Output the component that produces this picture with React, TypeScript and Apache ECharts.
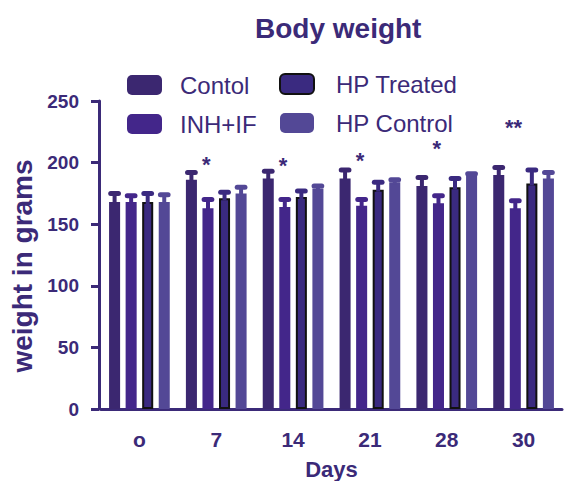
import React, { useEffect, useRef } from "react";
import * as echarts from "echarts";

const days = ["o", "7", "14", "21", "28", "30"];
const seriesNames = ["Contol", "INH+IF", "HP Treated", "HP Control"];
const contolMean = [168, 186, 187, 187, 181, 190];
const contolErr = [7, 6, 6, 7, 7, 6];
const inhMean = [168, 163, 164, 165, 167, 163];
const inhErr = [5, 7, 6, 5, 6, 6];
const hpTreatedMean = [168, 171, 172, 178, 180, 183];
const hpTreatedErr = [7, 5, 5, 6, 7, 11];
const hpControlMean = [168, 175, 179, 184, 190, 187];
const hpControlErr = [6, 5, 2, 2, 1, 5];
// significance marks: [day index, y value, label]
const stars: [number, number, string][] = [
  [1, 201, "*"],
  [2, 200, "*"],
  [3, 204, "*"],
  [4, 214, "*"],
  [5, 231, "**"],
];
const yTicks = [0, 50, 100, 150, 200, 250];

const INK = "#3b2a78";
const FONT = "'Liberation Sans', Arial, sans-serif";
const colors = ["#3b2770", "#43268a", "#3a2a80", "#534896"];
const CAT_GAP = 0.21;
const BAR_GAP = 0.5;

export default function App() {
  const ref = useRef<HTMLDivElement>(null);
  useEffect(() => {
    document.body.style.margin = "0";
    if (!ref.current) return;
    const chart = echarts.init(ref.current, undefined, { renderer: "svg" });
    const means = [contolMean, inhMean, hpTreatedMean, hpControlMean];
    const errs = [contolErr, inhErr, hpTreatedErr, hpControlErr];
    const n = 4;
    const barOffset = (bandWidth: number, i: number) => {
      const usable = bandWidth * (1 - CAT_GAP);
      const bw = usable / (n + (n - 1) * BAR_GAP);
      return { off: -usable / 2 + i * bw * (1 + BAR_GAP) + bw / 2, bw };
    };
    const barSeries = seriesNames.map((name, i) => ({
      name,
      type: "bar",
      data: means[i],
      barGap: BAR_GAP * 100 + "%",
      barCategoryGap: CAT_GAP * 100 + "%",
      itemStyle:
        i === 2
          ? { color: colors[i], borderColor: "#111", borderWidth: 2 }
          : { color: colors[i] },
      z: 2,
    }));
    const errSeries = seriesNames.map((name, i) => ({
      type: "custom",
      name: name + "_err",
      z: 3,
      data: means[i].map((m, k) => [k, m, errs[i][k]]),
      renderItem: (params: any, api: any) => {
        const c = api.value(0);
        const m = api.value(1);
        const e = api.value(2);
        const band = api.size([1, 0])[0];
        const { off, bw } = barOffset(band, i);
        const p0 = api.coord([c, m]);
        const p1 = api.coord([c, m + e]);
        const x = p0[0] + off;
        const capW = bw * 0.7;
        return {
          type: "group",
          children: [
            {
              type: "line",
              shape: { x1: x, y1: p0[1] + 2, x2: x, y2: p1[1] },
              style: { stroke: colors[i], lineWidth: 4 },
            },
            {
              type: "line",
              shape: { x1: x - capW / 2, y1: p1[1], x2: x + capW / 2, y2: p1[1] },
              style: { stroke: colors[i], lineWidth: 5, lineCap: "round" },
            },
          ],
        };
      },
    }));
    const starSeries = {
      type: "custom",
      name: "stars",
      z: 4,
      data: stars,
      renderItem: (params: any, api: any) => {
        const c = api.value(0);
        const v = api.value(1);
        const p = api.coord([c, v]);
        const label = stars[params.dataIndex][2];
        return {
          type: "text",
          x: p[0] - 10,
          y: p[1] + 3,
          style: {
            text: label,
            fill: INK,
            font: `bold 22px ${FONT}`,
            align: "center",
            verticalAlign: "middle",
          },
        };
      },
    };
    chart.setOption({
      animation: false,
      color: colors,
      title: {
        text: "Body weight",
        left: 255,
        top: 14,
        padding: 0,
        textStyle: { color: INK, fontSize: 28, fontWeight: "bold", fontFamily: FONT },
      },
      legend: [
        {
          data: ["Contol", "INH+IF"],
          orient: "vertical",
          left: 127,
          top: 73,
          padding: 0,
          itemWidth: 35,
          itemHeight: 20,
          itemGap: 15,
          textStyle: { color: INK, fontSize: 24, fontFamily: FONT, padding: [0, 0, 0, 13] },
        },
        {
          data: ["HP Treated", "HP Control"],
          orient: "vertical",
          left: 279,
          top: 72,
          padding: 0,
          itemWidth: 34,
          itemHeight: 20,
          itemGap: 15,
          textStyle: { color: INK, fontSize: 24, fontFamily: FONT, padding: [0, 0, 0, 17] },
        },
      ],
      grid: {
        left: 101,
        right: 5,
        top: 101,
        bottom: 72,
        containLabel: false,
        outerBoundsMode: "none",
      },
      xAxis: {
        type: "category",
        data: days,
        name: "Days",
        nameLocation: "middle",
        nameGap: 49,
        nameTextStyle: { color: INK, fontSize: 22, fontWeight: "bold", fontFamily: FONT },
        axisLine: { lineStyle: { color: INK, width: 3 } },
        axisTick: { alignWithLabel: true, length: 14, lineStyle: { color: INK, width: 3 } },
        axisLabel: { color: INK, fontSize: 21, fontWeight: "bold", fontFamily: FONT, margin: 20 },
      },
      yAxis: {
        type: "value",
        min: 0,
        max: 250,
        interval: 50,
        offset: 2,
        name: "weight in grams",
        nameLocation: "middle",
        nameGap: 60,
        nameTextStyle: {
          color: INK,
          fontSize: 28,
          fontWeight: "bold",
          fontFamily: FONT,
          padding: [0, 22, 0, 0],
        },
        splitLine: { show: false },
        axisLine: { show: true, lineStyle: { color: INK, width: 3 } },
        axisTick: { show: true, length: 8, lineStyle: { color: INK, width: 3 } },
        axisLabel: {
          color: INK,
          fontSize: 19,
          fontWeight: "bold",
          fontFamily: FONT,
          margin: 20,
          formatter: (v: number) => (yTicks.includes(v) ? String(v) : ""),
        },
      },
      series: [...barSeries, ...errSeries, starSeries],
    });
    return () => chart.dispose();
  }, []);
  return <div ref={ref} style={{ width: 567, height: 481 }} />;
}
